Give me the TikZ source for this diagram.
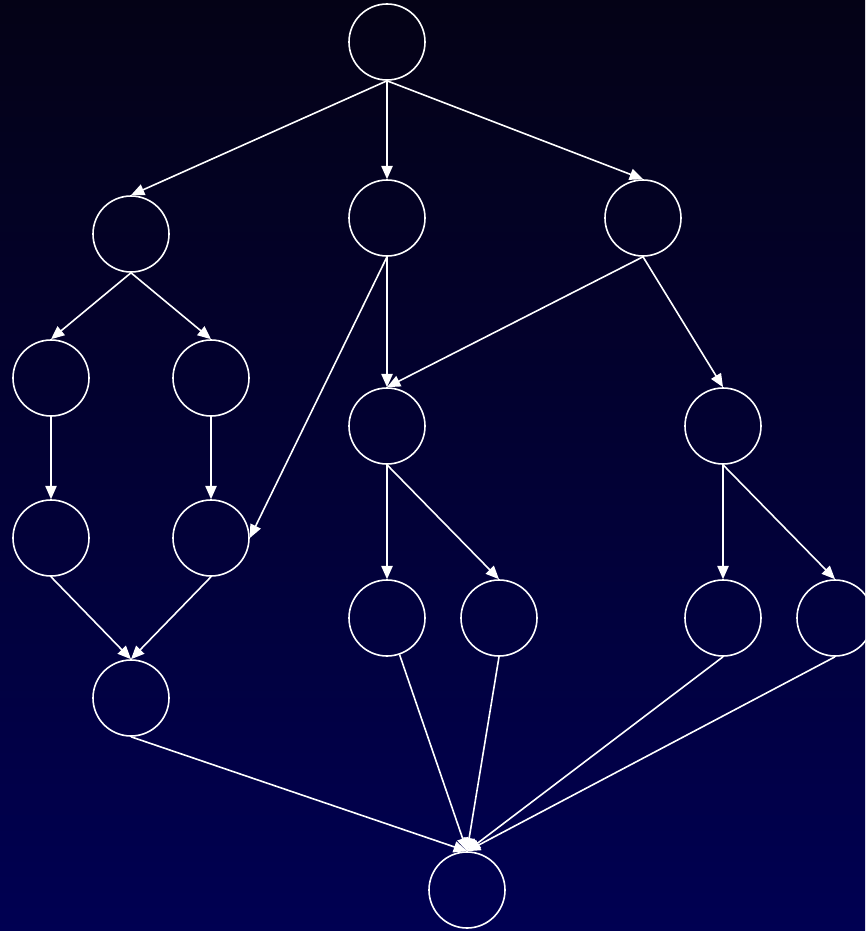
\documentclass[tikz,border=0pt]{standalone}
\usetikzlibrary{arrows.meta}
\definecolor{bgtop}{RGB}{4,2,22}
\definecolor{bgbottom}{RGB}{0,0,82}
\begin{document}
\begin{tikzpicture}[
  x=0.75pt, y=-0.75pt,
  state/.style={draw=white,line width=1.2pt,circle,minimum size=57pt,inner sep=0pt},
  flow/.style={-{Triangle[length=10pt,width=8.5pt]},draw=white,line width=1.2pt},
]

% ---- Background
\fill[top color=bgtop,bottom color=bgbottom] (0,0) rectangle (865,931);
\useasboundingbox (0,0) rectangle (865,931);

% ---- Root
\node[state] (R) at (387, 42) {};

% ---- Second row
\node[state] (B1) at (131,234) {};
\node[state] (B2) at (387,218) {};
\node[state] (B3) at (643,218) {};

% ---- Left branch
\node[state] (L1) at ( 51,378) {};
\node[state] (L2) at (211,378) {};
\node[state] (L3) at ( 51,538) {};
\node[state] (L4) at (211,538) {};
\node[state] (L5) at (131,698) {};

% ---- Middle and right branches
\node[state] (M1) at (387,426) {};
\node[state] (H1) at (723,426) {};
\node[state] (M2) at (387,618) {};
\node[state] (M3) at (499,618) {};
\node[state] (H2) at (723,618) {};
\node[state] (H3) at (835,618) {};

% ---- Sink
\node[state] (S) at (467,890) {};

% ---- Root -> second row
\draw[flow] (R.south) -- (B1.north);
\draw[flow] (R.south) -- (B2.north);
\draw[flow] (R.south) -- (B3.north);

% ---- Left branch
\draw[flow] (B1.south) -- (L1.north);
\draw[flow] (B1.south) -- (L2.north);
\draw[flow] (L1.south) -- (L3.north);
\draw[flow] (L2.south) -- (L4.north);
\draw[flow] (L3.south) -- (L5.north);
\draw[flow] (L4.south) -- (L5.north);

% ---- Middle branch
\draw[flow] (B2.south) -- (L4.east);
\draw[flow] (B2.south) -- (M1.north);
\draw[flow] (B3.south) -- (M1.north);
\draw[flow] (M1.south) -- (M2.north);
\draw[flow] (M1.south) -- (M3.north);

% ---- Right branch
\draw[flow] (B3.south) -- (H1.north);
\draw[flow] (H1.south) -- (H2.north);
\draw[flow] (H1.south) -- (H3.north);

% ---- Into the sink
\draw[flow] (L5.south) -- (S.north);
\draw[flow] (M2) -- (S.north);
\draw[flow] (M3.south) -- (S.north);
\draw[flow] (H2.south) -- (S.north);
\draw[flow] (H3.south) -- (S.north);

\end{tikzpicture}
\end{document}
